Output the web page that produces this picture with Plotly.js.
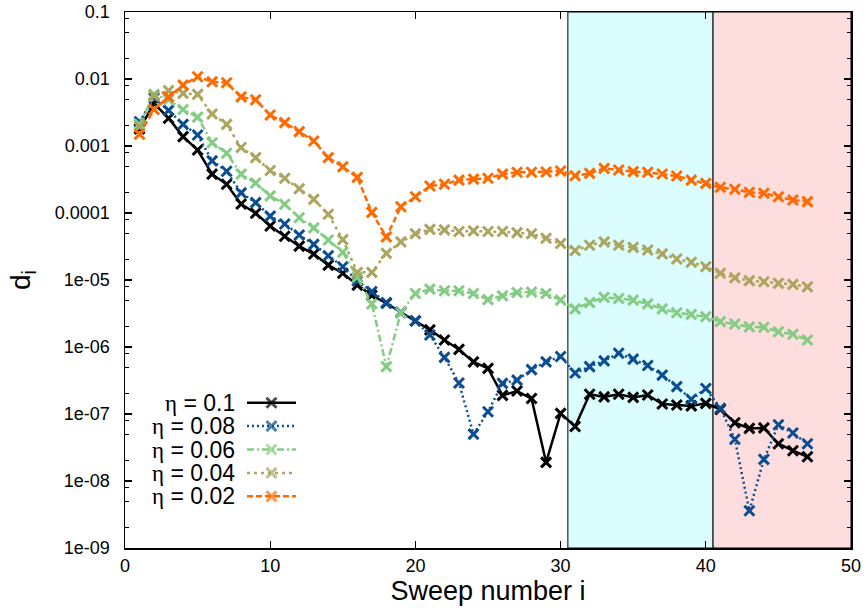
<!DOCTYPE html>
<html>
<head>
<meta charset="utf-8">
<script src="https://cdn.plot.ly/plotly-3.0.1.min.js"></script>
<style>html,body{margin:0;padding:0;background:#fff;}#chart{width:866px;height:608px;}</style>
</head>
<body>
<div id="chart"></div>
<script>
// ---- data ----
const sweep = [1,2,3,4,5,6,7,8,9,10,11,12,13,14,15,16,17,18,19,20,21,22,23,24,25,26,27,28,29,30,31,32,33,34,35,36,37,38,39,40,41,42,43,44,45,46,47];

const seriesNames = ["η = 0.1", "η = 0.08", "η = 0.06", "η = 0.04", "η = 0.02"];

const eta010 = [0.0018,0.0043,0.0026,0.00138,0.00087,0.00038,0.000268,0.000136,9.9e-5,6.4e-5,4.5e-5,3.2e-5,2.44e-5,1.67e-5,1.26e-5,8.4e-6,5.9e-6,4.5e-6,3.3e-6,2.45e-6,1.8e-6,1.27e-6,9.2e-7,6.0e-7,4.8e-7,1.9e-7,2.2e-7,1.7e-7,1.9e-8,1.02e-7,6.5e-8,1.97e-7,1.8e-7,1.97e-7,1.77e-7,1.92e-7,1.41e-7,1.36e-7,1.32e-7,1.44e-7,1.17e-7,7.4e-8,6.1e-8,6.2e-8,3.6e-8,2.83e-8,2.3e-8];

const eta008 = [0.0023,0.0052,0.0034,0.0021,0.00146,0.0006,0.00042,0.0002,0.000143,9.0e-5,6.85e-5,4.7e-5,3.4e-5,2.3e-5,1.58e-5,9.7e-6,6.7e-6,4.6e-6,3.25e-6,2.45e-6,1.51e-6,7.0e-7,2.9e-7,5.0e-8,1.08e-7,2.87e-7,3.2e-7,4.6e-7,6.0e-7,7.2e-7,4.1e-7,5.1e-7,6.2e-7,8.05e-7,6.6e-7,5.3e-7,3.8e-7,2.56e-7,1.66e-7,2.4e-7,1.22e-7,4.2e-8,3.6e-9,2.1e-8,6.9e-8,5.2e-8,3.6e-8];

const eta006 = [0.0021,0.0059,0.0049,0.0035,0.0027,0.00112,0.00078,0.00038,0.00028,0.00018,0.000135,8.5e-5,6.0e-5,3.95e-5,2.6e-5,1.1e-5,4.4e-6,5.1e-7,3.25e-6,6.3e-6,7.3e-6,6.9e-6,6.9e-6,6.3e-6,5.1e-6,5.8e-6,6.5e-6,6.6e-6,6.3e-6,5.0e-6,3.7e-6,4.6e-6,5.5e-6,5.3e-6,5.0e-6,4.4e-6,3.7e-6,3.25e-6,3.07e-6,2.83e-6,2.39e-6,2.2e-6,2.0e-6,1.97e-6,1.69e-6,1.55e-6,1.27e-6];

const eta004 = [0.00194,0.0056,0.0067,0.0061,0.0059,0.0030,0.0021,0.00095,0.00067,0.00043,0.00033,0.00023,0.00016,9.6e-5,4.0e-5,1.3e-5,1.3e-5,2.5e-5,3.7e-5,4.9e-5,5.7e-5,5.6e-5,5.3e-5,5.4e-5,5.3e-5,5.3e-5,5.1e-5,4.9e-5,4.2e-5,3.5e-5,2.75e-5,3.3e-5,3.7e-5,3.3e-5,3.07e-5,2.8e-5,2.45e-5,2.06e-5,1.84e-5,1.58e-5,1.26e-5,1.08e-5,9.8e-6,9.4e-6,8.9e-6,8.6e-6,7.9e-6];

const eta002 = [0.0015,0.0035,0.0054,0.0081,0.0108,0.0091,0.0088,0.0054,0.0049,0.0029,0.00223,0.00164,0.00119,0.00067,0.00049,0.00034,0.000102,4.4e-5,0.000124,0.000175,0.000253,0.000268,0.00031,0.00032,0.00033,0.00038,0.000405,0.000405,0.00041,0.000424,0.00036,0.00039,0.000464,0.000438,0.000414,0.000405,0.000382,0.000356,0.00031,0.000277,0.000242,0.000226,0.000204,0.000197,0.000175,0.000156,0.000148];

const xTickVals = [0,10,20,30,40,50];
const yTickVals = [1e-9,1e-8,1e-7,1e-6,1e-5,1e-4,1e-3,1e-2,1e-1];
const yTickText = ["1e-09","1e-08","1e-07","1e-06","1e-05","0.0001","0.001","0.01","0.1"];
const yMinorVals = [2e-9,5e-9,8e-9,2e-8,5e-8,8e-8,2e-7,5e-7,8e-7,2e-6,5e-6,8e-6,2e-5,5e-5,8e-5,2e-4,5e-4,8e-4,2e-3,5e-3,8e-3,2e-2,5e-2,8e-2];

// shaded sweep ranges
const regionStart = [30.5, 40.5];
const regionEnd = [40.5, 50];
const regionFill = ["#dbfdfd", "#fddddd"];

// ---- styles ----
const allData = [eta010, eta008, eta006, eta004, eta002];
const colors = ["#000000", "#0a4d90", "#84cc84", "#aca55f", "#ff6a00"];
const dashes = ["solid", "2px,3px", "7px,3px,2px,3px", "3px,4px", "6px,3px"];
const FONT = "Liberation Sans, Arial, Helvetica, sans-serif";

const traces = [];
allData.forEach((ys, k) => {
  traces.push({
    x: sweep, y: ys, type: "scatter", mode: "lines+markers",
    name: seriesNames[k], showlegend: false,
    line: {color: colors[k], width: 2.5, dash: dashes[k]},
    marker: {symbol: "x-thin", size: 10, color: colors[k], line: {color: colors[k], width: 3}},
    xaxis: "x", yaxis: "y", hoverinfo: "skip"
  });
});
// legend samples (text on the left, sample on the right, like the reference)
const annotations = [];
seriesNames.forEach((nm, k) => {
  traces.push({
    x: [0, 0.5, 1], y: [k + 1, k + 1, k + 1], type: "scatter", mode: "lines+markers",
    showlegend: false, xaxis: "x2", yaxis: "y2", hoverinfo: "skip",
    line: {color: colors[k], width: 2.5, dash: dashes[k]},
    marker: {symbol: "x-thin", size: [0, 10, 0], color: colors[k], line: {color: colors[k], width: 3}}
  });
  annotations.push({
    xref: "paper", yref: "y2", x: 0.153, y: k + 1, xanchor: "right", yanchor: "middle",
    text: nm.replace("η", '<span style="font-family:Liberation Serif, DejaVu Serif, serif">η</span>'),
    showarrow: false, font: {family: FONT, size: 23, color: "#000"}, borderpad: 0
  });
});

const shapes = regionStart.map((s, k) => ({
  type: "rect", xref: "x", yref: "paper", x0: s, x1: regionEnd[k], y0: 0, y1: 1,
  fillcolor: regionFill[k], line: {color: "#000", width: 1}, layer: "below"
}));

const layout = {
  width: 866, height: 608,
  margin: {l: 125, r: 15, t: 12, b: 60},
  paper_bgcolor: "#fff", plot_bgcolor: "#fff",
  font: {family: FONT, color: "#000"},
  showlegend: false,
  shapes: shapes,
  annotations: annotations,
  xaxis: {
    range: [0, 50], tickmode: "array", tickvals: xTickVals,
    ticks: "inside", ticklen: 7, tickwidth: 1.2, tickcolor: "#000",
    showline: true, linecolor: "#000", linewidth: 1.5, mirror: "ticks",
    showgrid: false, zeroline: false,
    tickfont: {family: FONT, size: 18, color: "#000"},
    ticklabelstandoff: 1,
    title: {text: "Sweep number i", font: {family: FONT, size: 27, color: "#000"}, standoff: 6}
  },
  yaxis: {
    type: "log", range: [-9, -1], tickmode: "array", tickvals: yTickVals, ticktext: yTickText,
    ticks: "inside", ticklen: 7, tickwidth: 1.2, tickcolor: "#000",
    minor: {tickmode: "array", tickvals: yMinorVals, ticks: "inside", ticklen: 4, tickwidth: 1, tickcolor: "#000", showgrid: false},
    showline: true, linecolor: "#000", linewidth: 1.5, mirror: "ticks",
    showgrid: false, zeroline: false,
    tickfont: {family: FONT, size: 18, color: "#000"},
    ticklabelstandoff: 10,
    title: {text: "d<sub>i</sub>", font: {family: FONT, size: 28, color: "#000"}, standoff: 16}
  },
  xaxis2: {domain: [0.168, 0.2355], range: [0, 1], visible: false, anchor: "y2", fixedrange: true},
  yaxis2: {domain: [0.0746, 0.2929], range: [5.5, 0.5], visible: false, anchor: "x2", fixedrange: true}
};

Plotly.newPlot("chart", traces, layout, {displayModeBar: false, staticPlot: true});
</script>
</body>
</html>
